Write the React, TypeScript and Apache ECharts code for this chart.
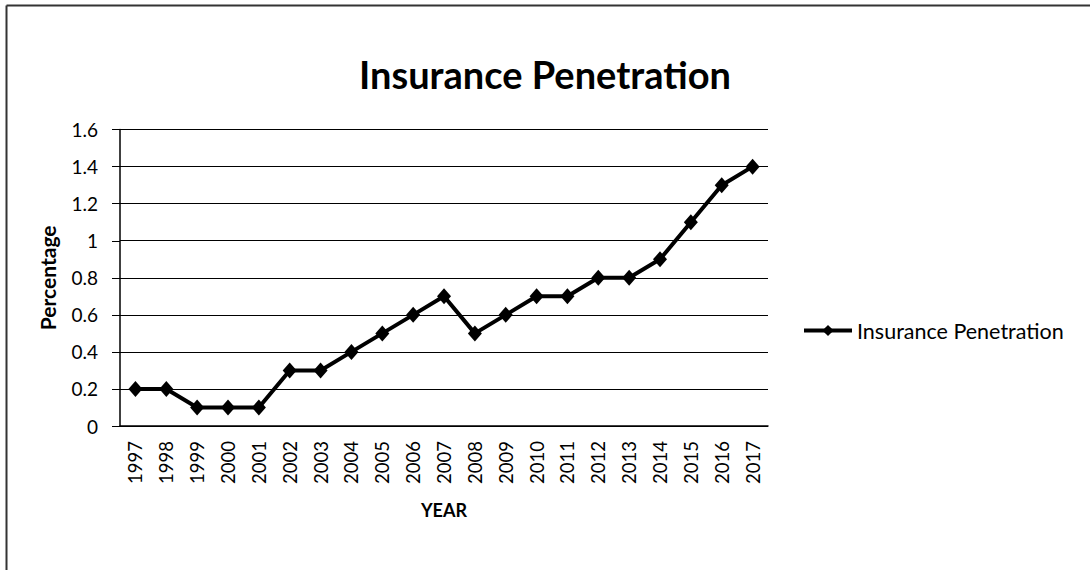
import React, { useEffect, useRef } from "react";
import * as echarts from "echarts";

const years = ["1997","1998","1999","2000","2001","2002","2003","2004","2005","2006","2007","2008","2009","2010","2011","2012","2013","2014","2015","2016","2017"];
const penetration = [0.2,0.2,0.1,0.1,0.1,0.3,0.3,0.4,0.5,0.6,0.7,0.5,0.6,0.7,0.7,0.8,0.8,0.9,1.1,1.3,1.4];
const seriesName = "Insurance Penetration";
const titleText = "Insurance Penetration";

const FONT = "Lato, 'Open Sans', sans-serif";

export default function App() {
  const ref = useRef<HTMLDivElement>(null);
  useEffect(() => {
    if (!ref.current) return;
    const chart = echarts.init(ref.current, undefined, { renderer: "svg" });
    chart.setOption({
      animation: false,
      backgroundColor: "#fff",
      graphic: [
        { type: "line", shape: { x1: 6.5, y1: 5.5, x2: 1200, y2: 5.5 }, style: { stroke: "#333", lineWidth: 2 }, z: 100 },
        { type: "line", shape: { x1: 6.5, y1: 5.5, x2: 6.5, y2: 700 }, style: { stroke: "#333", lineWidth: 2 }, z: 100 },
      ],
      title: {
        text: titleText,
        left: "center",
        top: 50,
        textStyle: { fontFamily: FONT, fontWeight: "bold", fontSize: 38, color: "#000" },
      },
      legend: {
        orient: "vertical",
        left: 802,
        top: 319.5,
        padding: 0,
        itemWidth: 48,
        itemHeight: 14,
        itemGap: 0,
        lineStyle: { width: 4, color: "#000" },
        textStyle: { fontFamily: FONT, fontSize: 21.5, color: "#000" },
        data: [seriesName],
      },
      grid: { left: 120, top: 129.6, right: 322, bottom: 144, containLabel: false },
      xAxis: {
        type: "category",
        data: years,
        boundaryGap: true,
        axisLine: { show: true, lineStyle: { color: "#000", width: 1.5 } },
        axisTick: { show: false },
        axisLabel: { rotate: 90, fontFamily: FONT, fontSize: 18.5, color: "#000", margin: 15, interval: 0 },
        name: "YEAR",
        nameLocation: "middle",
        nameGap: 75,
        nameTextStyle: { fontFamily: FONT, fontWeight: "bold", fontSize: 18, color: "#000" },
      },
      yAxis: {
        type: "value",
        min: 0,
        max: 1.6,
        interval: 0.2,
        axisLine: { show: true, lineStyle: { color: "#000", width: 1.5 } },
        axisTick: { show: true, length: 8, inside: false, lineStyle: { color: "#000" } },
        splitLine: { show: true, lineStyle: { color: "#000", width: 1 } },
        axisLabel: { fontFamily: FONT, fontSize: 19, color: "#000", margin: 22, formatter: (v: number) => String(Math.round(v * 10) / 10) },
        name: "Percentage",
        nameLocation: "middle",
        nameGap: 62,
        nameTextStyle: { fontFamily: FONT, fontWeight: "bold", fontSize: 21, color: "#000" },
      },
      series: [
        {
          name: seriesName,
          type: "line",
          data: penetration,
          symbol: "diamond",
          symbolSize: [14, 16],
          itemStyle: { color: "#000" },
          lineStyle: { color: "#000", width: 4 },
        },
      ],
    });
    return () => chart.dispose();
  }, []);
  return <div ref={ref} style={{ position: "fixed", left: 0, top: 0, width: 1090, height: 570 }} />;
}
